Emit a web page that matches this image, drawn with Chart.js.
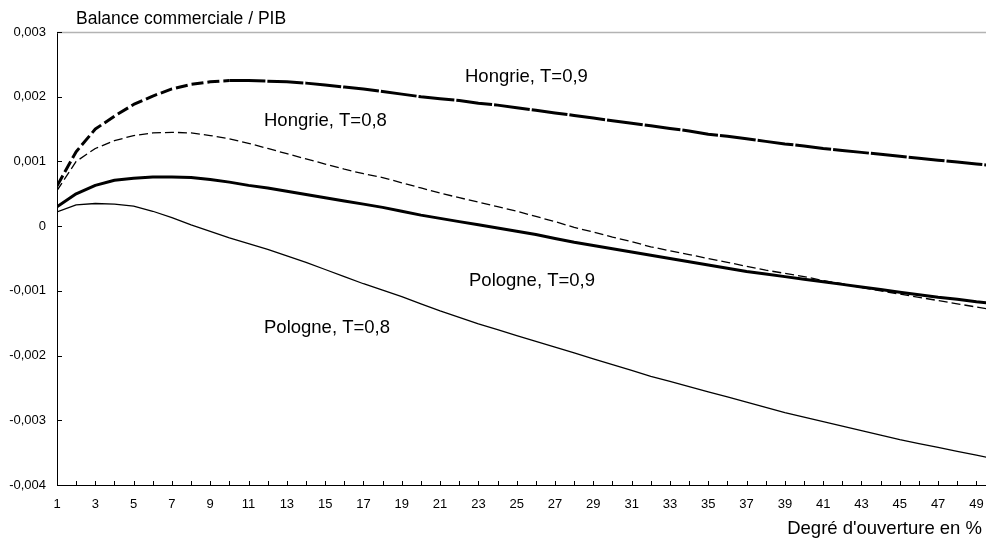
<!DOCTYPE html>
<html lang="fr">
<head>
<meta charset="utf-8">
<title>Balance commerciale / PIB</title>
<script src="https://cdn.jsdelivr.net/npm/chart.js@4.4.1/dist/chart.umd.min.js"></script>
<style>
  html, body { margin: 0; padding: 0; background: #fff; }
  #wrap { position: relative; width: 986px; height: 543px; }
</style>
</head>
<body>
<div id="wrap"><canvas id="chart"></canvas></div>
<script>
/* Balance commerciale / PIB selon le degré d'ouverture */
const degres = [
  1, 2, 3, 4, 5, 6, 7, 8, 9, 10, 11, 12, 13, 14, 15, 16, 17, 18, 19, 20,
  21, 22, 23, 24, 25, 26, 27, 28, 29, 30, 31, 32, 33, 34, 35, 36, 37, 38, 39, 40,
  41, 42, 43, 44, 45, 46, 47, 48, 49, 50,
];

const hongrie09 = [
  0.00062, 0.00115, 0.00150, 0.00170, 0.00188, 0.00201, 0.00212, 0.00219, 0.00223, 0.00225,
  0.00225, 0.00224, 0.00223, 0.00221, 0.00218, 0.00215, 0.00212, 0.00208, 0.00204, 0.00200,
  0.00197, 0.00194, 0.00190, 0.00187, 0.00183, 0.00179, 0.00175, 0.00171, 0.00167, 0.00163,
  0.00159, 0.00155, 0.00151, 0.00147, 0.00142, 0.00139, 0.00135, 0.00131, 0.00127, 0.00124,
  0.00120, 0.00117, 0.00114, 0.00111, 0.00108, 0.00105, 0.00102, 0.00099, 0.00096, 0.00093,
];

const hongrie08 = [
  0.00055, 0.00100, 0.00120, 0.00132, 0.00140, 0.00144, 0.00145, 0.00144, 0.00140, 0.00135,
  0.00128, 0.00120, 0.00112, 0.00104, 0.00096, 0.00088, 0.00081, 0.00075, 0.00067, 0.00059,
  0.00051, 0.00044, 0.00037, 0.00030, 0.00023, 0.00015, 0.00007, -0.00002, -0.00009, -0.00017,
  -0.00024, -0.00032, -0.00038, -0.00044, -0.00050, -0.00056, -0.00062, -0.00068, -0.00073, -0.00078,
  -0.00084, -0.00089, -0.00095, -0.00100, -0.00105, -0.00110, -0.00115, -0.00120, -0.00125, -0.00130,
];

const pologne09 = [
  0.00030, 0.00050, 0.00063, 0.00071, 0.00074, 0.00076, 0.00076, 0.00075, 0.00072, 0.00068,
  0.00063, 0.00059, 0.00054, 0.00049, 0.00044, 0.00039, 0.00034, 0.00029, 0.00023, 0.00017,
  0.00012, 0.00007, 0.00002, -0.00003, -0.00008, -0.00013, -0.00019, -0.00025, -0.00030, -0.00035,
  -0.00040, -0.00045, -0.00050, -0.00055, -0.00060, -0.00065, -0.00070, -0.00074, -0.00078, -0.00082,
  -0.00086, -0.00090, -0.00094, -0.00098, -0.00102, -0.00106, -0.00110, -0.00113, -0.00117, -0.00120,
];

const pologne08 = [
  0.00022, 0.00033, 0.00035, 0.00034, 0.00031, 0.00023, 0.00013, 0.00002, -0.00008, -0.00018,
  -0.00027, -0.00036, -0.00046, -0.00056, -0.00067, -0.00078, -0.00089, -0.00099, -0.00109, -0.00120,
  -0.00131, -0.00141, -0.00151, -0.00160, -0.00169, -0.00178, -0.00187, -0.00196, -0.00205, -0.00214,
  -0.00223, -0.00232, -0.00240, -0.00248, -0.00256, -0.00264, -0.00272, -0.00280, -0.00288, -0.00295,
  -0.00302, -0.00309, -0.00316, -0.00323, -0.00330, -0.00336, -0.00342, -0.00348, -0.00354, -0.00360,
];

const xTickValues = degres.filter(d => d <= 49);
const yTickValues = [-0.004, -0.003, -0.002, -0.001, 0, 0.001, 0.002, 0.003];

const FONT = "'Liberation Sans', Arial, Helvetica, sans-serif";
Chart.defaults.font.family = FONT;
Chart.defaults.color = '#000';

function toPoints(values) {
  return degres.map((d, i) => ({ x: d, y: values[i] }));
}

function formatY(v) {
  const r = Math.round(v * 1000) / 1000;
  if (r === 0) return '0';
  return r.toFixed(3).replace('.', ',');
}

// ticks drawn inside the plot, top border, and free text labels
const decor = {
  id: 'decor',
  afterDatasetsDraw(chart) {
    const { ctx, chartArea, scales } = chart;
    ctx.save();
    ctx.strokeStyle = '#b3b3b3';
    ctx.lineWidth = 1.5;
    ctx.beginPath();
    ctx.moveTo(chartArea.left, chartArea.top + 0.5);
    ctx.lineTo(chartArea.right, chartArea.top + 0.5);
    ctx.stroke();

    ctx.strokeStyle = '#000';
    ctx.lineWidth = 1;
    ctx.beginPath();
    for (const v of xTickValues) {
      const px = Math.round(scales.x.getPixelForValue(v)) + 0.5;
      ctx.moveTo(px, chartArea.bottom);
      ctx.lineTo(px, chartArea.bottom - 4);
    }
    for (const v of yTickValues) {
      const py = Math.round(scales.y.getPixelForValue(v)) + 0.5;
      ctx.moveTo(chartArea.left, py);
      ctx.lineTo(chartArea.left + 5, py);
    }
    ctx.stroke();
    ctx.restore();
  },
  afterDraw(chart) {
    const { ctx } = chart;
    ctx.save();
    ctx.fillStyle = '#000';
    ctx.textBaseline = 'middle';
    ctx.textAlign = 'left';
    ctx.font = `17.5px ${FONT}`;
    ctx.fillText('Balance commerciale / PIB', 76, 19);
    ctx.font = `18.5px ${FONT}`;
    ctx.fillText('Hongrie, T=0,9', 465, 77);
    ctx.fillText('Hongrie, T=0,8', 264, 121);
    ctx.fillText('Pologne, T=0,9', 469, 281);
    ctx.fillText('Pologne, T=0,8', 264, 328);
    ctx.textAlign = 'right';
    ctx.fillText("Degré d'ouverture en %", 982, 529);
    ctx.restore();
  },
};

const ctx = document.getElementById('chart').getContext('2d');
new Chart(ctx, {
  type: 'line',
  data: {
    datasets: [
      {
        label: 'Hongrie, T=0,9',
        data: toPoints(hongrie09),
        borderColor: '#000',
        borderWidth: 3,
        segment: { borderDash: c => (c.p0DataIndex < 9 ? [12, 4] : [36, 2]) },
      },
      {
        label: 'Hongrie, T=0,8',
        data: toPoints(hongrie08),
        borderColor: '#000',
        borderWidth: 1.3,
        borderDash: [9, 4],
      },
      {
        label: 'Pologne, T=0,9',
        data: toPoints(pologne09),
        borderColor: '#000',
        borderWidth: 3,
      },
      {
        label: 'Pologne, T=0,8',
        data: toPoints(pologne08),
        borderColor: '#000',
        borderWidth: 1.3,
      },
    ],
  },
  options: {
    responsive: true,
    maintainAspectRatio: false,
    animation: false,
    layout: { padding: { top: 32, right: 0, bottom: 0, left: 0 } },
    elements: {
      point: { radius: 0, hoverRadius: 0 },
      line: { tension: 0, fill: false, borderCapStyle: 'butt', borderJoinStyle: 'round' },
    },
    plugins: {
      legend: { display: false },
      tooltip: { enabled: false },
    },
    scales: {
      x: {
        type: 'linear',
        min: 1,
        max: 49.5,
        afterFit: s => {
          s.height = 58;
          s.paddingLeft = 0;
          s.paddingRight = 0;
        },
        grid: { display: false, drawTicks: false },
        border: { display: true, color: '#000', width: 1 },
        ticks: {
          stepSize: 1,
          includeBounds: false,
          autoSkip: false,
          maxRotation: 0,
          padding: 12,
          color: '#000',
          font: { size: 13 },
          callback: v => (Number.isInteger(v) && v % 2 === 1 ? String(v) : ''),
        },
      },
      y: {
        min: -0.004,
        max: 0.003,
        afterFit: s => { s.width = 57; },
        grid: { display: false, drawTicks: false },
        border: { display: true, color: '#000', width: 1 },
        ticks: {
          stepSize: 0.001,
          padding: 11,
          color: '#000',
          font: { size: 13 },
          callback: v => formatY(v),
        },
      },
    },
  },
  plugins: [decor],
});
</script>
</body>
</html>
